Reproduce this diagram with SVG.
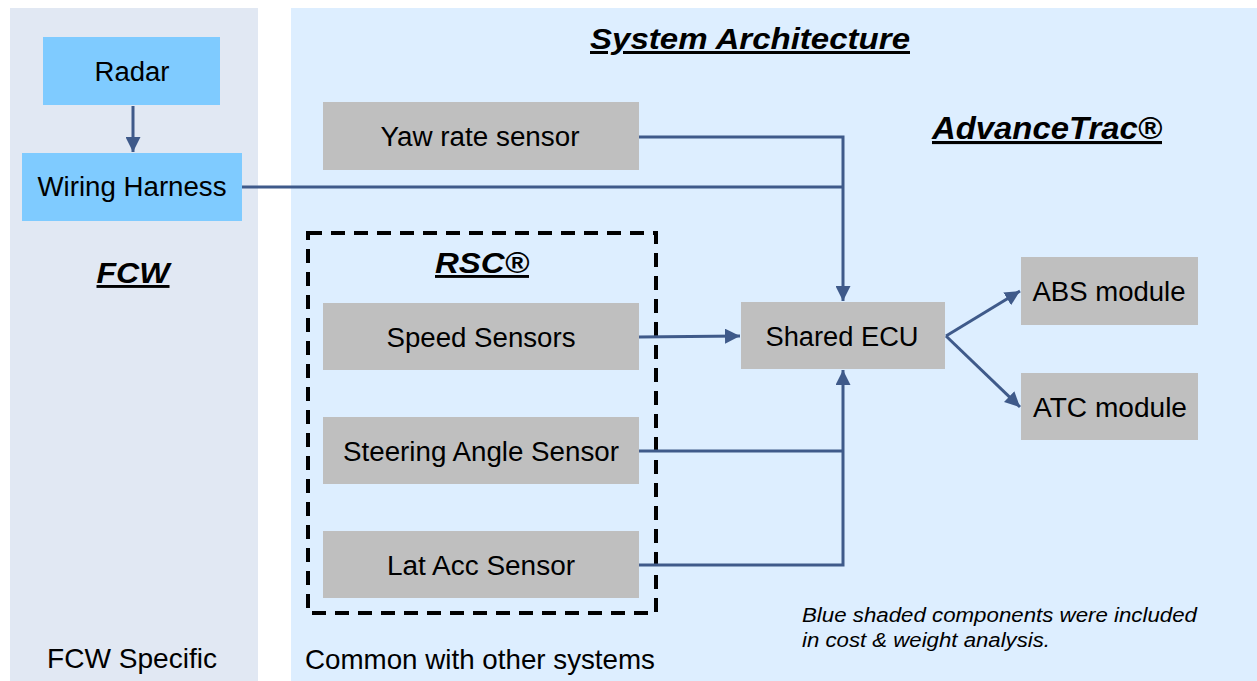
<svg xmlns="http://www.w3.org/2000/svg" width="1257" height="681" viewBox="0 0 1257 681">
<defs>
<style>
.t{font-family:"Liberation Sans",Arial,sans-serif;font-size:27px;fill:#000;text-anchor:middle}
.h{font-family:"Liberation Sans",Arial,sans-serif;font-weight:bold;font-style:italic;text-decoration:underline;fill:#000;text-anchor:middle}
.n{font-family:"Liberation Sans",Arial,sans-serif;font-size:28px;fill:#000}
.note{font-family:"Liberation Sans",Arial,sans-serif;font-size:20px;font-style:italic;fill:#000}
.blue{fill:#7fcbff}
.gray{fill:#bfbfbf}
.c{fill:none;stroke:#3f5a8a;stroke-width:3}
</style>
<marker id="ah" viewBox="0 0 10 10" refX="10" refY="5" markerWidth="5" markerHeight="5" markerUnits="strokeWidth" orient="auto">
<path d="M0,0 L10,5 L0,10 z" fill="#3f5a8a"/>
</marker>
</defs>
<rect width="1257" height="681" fill="#ffffff"/>
<rect x="10" y="8" width="248" height="673" fill="#e1e8f3"/>
<rect x="291" y="8" width="966" height="673" fill="#ddeeff"/>

<g id="titles">
<text class="h" x="750" y="49" font-size="30" textLength="320" lengthAdjust="spacingAndGlyphs">System Architecture</text>
<text class="h" x="1047" y="139" font-size="31" textLength="230" lengthAdjust="spacingAndGlyphs">AdvanceTrac®</text>
<text class="h" x="133" y="283" font-size="29" textLength="73" lengthAdjust="spacingAndGlyphs">FCW</text>
<text class="n" x="47" y="668" textLength="170" lengthAdjust="spacingAndGlyphs">FCW Specific</text>
<text class="n" x="305" y="669" textLength="350" lengthAdjust="spacingAndGlyphs">Common with other systems</text>
<text class="note" x="802" y="622" textLength="395" lengthAdjust="spacingAndGlyphs">Blue shaded components were included</text>
<text class="note" x="802" y="647" textLength="248" lengthAdjust="spacingAndGlyphs">in cost &amp; weight analysis.</text>
</g>

<g id="rsc">
<rect x="308" y="233" width="348" height="380" fill="none" stroke="#000" stroke-width="4" stroke-dasharray="14 9"/>
<text class="h" x="482" y="273" font-size="29" textLength="94" lengthAdjust="spacingAndGlyphs">RSC®</text>
</g>

<g id="radar"><rect class="blue" x="43" y="37" width="177" height="68"/><text class="t" x="132" y="81" textLength="75" lengthAdjust="spacingAndGlyphs">Radar</text></g>
<g id="wiring"><rect class="blue" x="22" y="153" width="220" height="68"/><text class="t" x="132" y="196" textLength="189" lengthAdjust="spacingAndGlyphs">Wiring Harness</text></g>
<g id="yaw"><rect class="gray" x="323" y="102" width="316" height="68"/><text class="t" x="480" y="146" textLength="199" lengthAdjust="spacingAndGlyphs">Yaw rate sensor</text></g>
<g id="speed"><rect class="gray" x="323" y="303" width="316" height="67"/><text class="t" x="481" y="347" textLength="189" lengthAdjust="spacingAndGlyphs">Speed Sensors</text></g>
<g id="steering"><rect class="gray" x="323" y="417" width="316" height="67"/><text class="t" x="481" y="461" textLength="276" lengthAdjust="spacingAndGlyphs">Steering Angle Sensor</text></g>
<g id="latacc"><rect class="gray" x="323" y="531" width="316" height="67"/><text class="t" x="481" y="575" textLength="188" lengthAdjust="spacingAndGlyphs">Lat Acc Sensor</text></g>
<g id="ecu"><rect class="gray" x="741" y="302" width="204" height="67"/><text class="t" x="842" y="346" textLength="153" lengthAdjust="spacingAndGlyphs">Shared ECU</text></g>
<g id="abs"><rect class="gray" x="1021" y="257" width="177" height="68"/><text class="t" x="1109" y="301" textLength="153" lengthAdjust="spacingAndGlyphs">ABS module</text></g>
<g id="atc"><rect class="gray" x="1021" y="373" width="177" height="67"/><text class="t" x="1110" y="417" textLength="154" lengthAdjust="spacingAndGlyphs">ATC module</text></g>

<g id="connectors">
<line class="c" x1="133" y1="106" x2="133" y2="152" marker-end="url(#ah)"/>
<polyline class="c" points="639,137 843,137 843,301" marker-end="url(#ah)"/>
<line class="c" x1="242" y1="187" x2="843" y2="187"/>
<line class="c" x1="639" y1="337" x2="740" y2="336" marker-end="url(#ah)"/>
<line class="c" x1="639" y1="451" x2="843" y2="451"/>
<polyline class="c" points="639,565 843,565 843,370" marker-end="url(#ah)"/>
<line class="c" x1="946" y1="336" x2="1020" y2="291" marker-end="url(#ah)"/>
<line class="c" x1="946" y1="336" x2="1020" y2="407" marker-end="url(#ah)"/>
</g>
</svg>
